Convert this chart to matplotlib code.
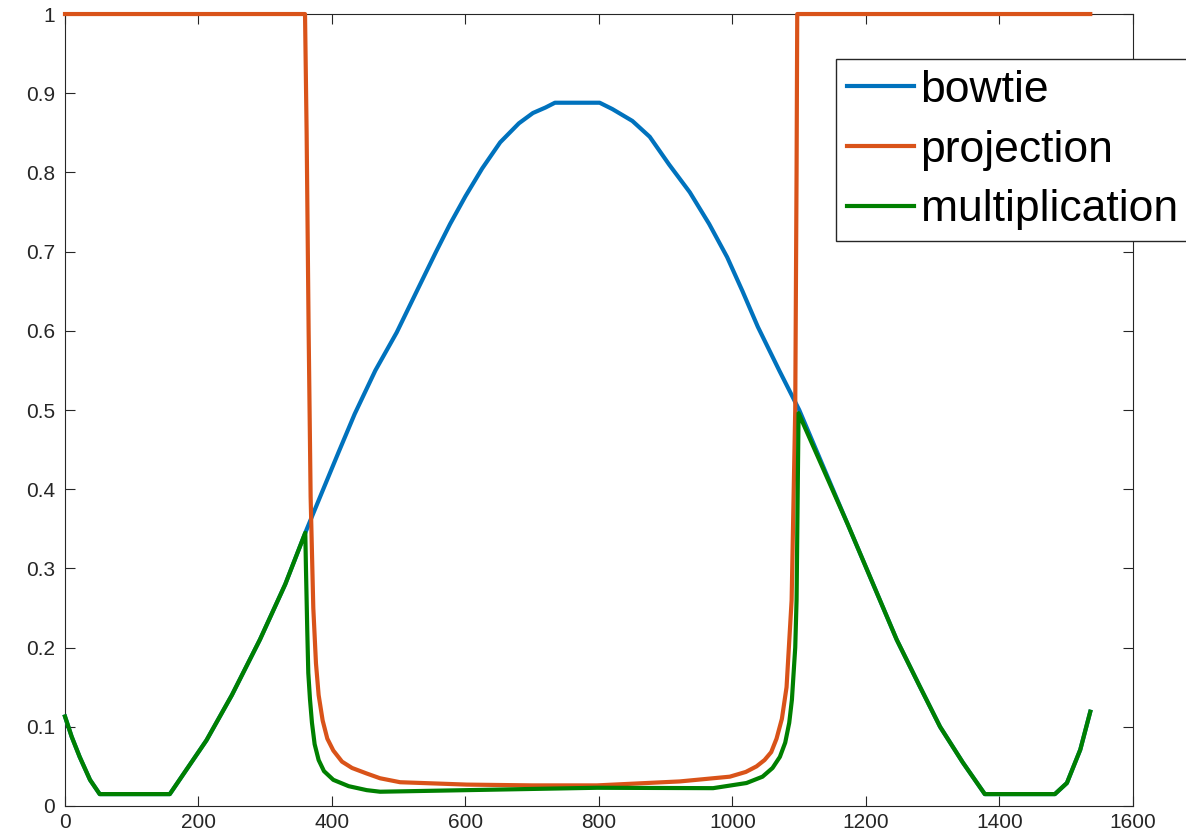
import matplotlib.pyplot as plt

# 数据
bowtie_x = [0, 10, 22, 37.5, 52, 157, 212, 250, 292, 330, 360, 382, 410, 434, 465, 497, 527,
            556, 577, 600, 625, 652, 680, 701, 720, 734, 801, 820, 850, 876, 905, 936, 965,
            992, 1015, 1038, 1070, 1100, 1173, 1246, 1280, 1311, 1345, 1378, 1483, 1501,
            1521, 1536]
bowtie_y = [0.113, 0.0875, 0.062, 0.033, 0.015, 0.015, 0.083, 0.14, 0.21, 0.28, 0.345, 0.39,
            0.447, 0.495, 0.55, 0.598, 0.65, 0.70, 0.735, 0.77, 0.805, 0.838, 0.862, 0.875,
            0.882, 0.888, 0.888, 0.880, 0.865, 0.845, 0.81, 0.775, 0.735, 0.693, 0.65, 0.605,
            0.55, 0.50, 0.355, 0.21, 0.152, 0.10, 0.055, 0.015, 0.015, 0.029, 0.071, 0.119]

projection_x = [0, 359.6, 362, 365, 368, 372, 376, 380, 386, 393, 402, 415, 430, 452, 472,
                502, 602, 700, 797, 921, 996, 1020, 1036, 1048, 1058, 1066, 1074, 1081,
                1088.6, 1094, 1096, 1097, 1536]
projection_y = [1.0, 1.0, 0.85, 0.6, 0.39, 0.25, 0.18, 0.14, 0.108, 0.085, 0.07, 0.056,
                0.048, 0.041, 0.035, 0.030, 0.027, 0.026, 0.026, 0.031, 0.037, 0.043, 0.05,
                0.058, 0.068, 0.085, 0.11, 0.15, 0.26, 0.5, 0.8, 1.0, 1.0]

mult_x = [0, 10, 22, 37.5, 52, 157, 212, 250, 292, 330, 360, 361, 363, 364.5, 367, 370, 374,
          380, 388, 402, 425, 452, 472, 602, 797, 971, 1021, 1045, 1060, 1071, 1079, 1085,
          1089, 1094, 1096, 1098, 1099, 1173, 1246, 1280, 1311, 1345, 1378, 1483, 1501,
          1521, 1536]
mult_y = [0.113, 0.0875, 0.062, 0.033, 0.015, 0.015, 0.083, 0.14, 0.21, 0.28, 0.345, 0.30,
          0.22, 0.168, 0.135, 0.105, 0.078, 0.058, 0.044, 0.033, 0.025, 0.02, 0.018, 0.020,
          0.023, 0.0225, 0.029, 0.037, 0.048, 0.062, 0.08, 0.105, 0.134, 0.2, 0.26, 0.42,
          0.496, 0.355, 0.21, 0.152, 0.10, 0.055, 0.015, 0.015, 0.029, 0.071, 0.119]

labels = ['bowtie', 'projection', 'multiplication']
colors = ['#0072BD', '#D95319', '#008000']

x_ticks = [0, 200, 400, 600, 800, 1000, 1200, 1400, 1600]
y_ticks = [0, 0.1, 0.2, 0.3, 0.4, 0.5, 0.6, 0.7, 0.8, 0.9, 1]
y_tick_labels = ['0', '0.1', '0.2', '0.3', '0.4', '0.5', '0.6', '0.7', '0.8', '0.9', '1']


def draw_chart(output_file="out.png"):
    plt.rcParams['font.family'] = ['Liberation Sans', 'DejaVu Sans']

    fig = plt.figure(figsize=(11.86, 8.4), dpi=100)
    ax = fig.add_axes([0.0548, 0.0405, 0.9005, 0.9428])

    # 三条曲线（不裁剪，使 y=1 处的线完整显示）
    series = [(bowtie_x, bowtie_y), (projection_x, projection_y), (mult_x, mult_y)]
    for (xs, ys), lab, col in zip(series, labels, colors):
        ax.plot(xs, ys, color=col, linewidth=3, label=lab, clip_on=False, zorder=3)

    ax.set_xlim(0, 1600)
    ax.set_ylim(0, 1)
    ax.set_xticks(x_ticks)
    ax.set_yticks(y_ticks)
    ax.set_yticklabels(y_tick_labels)

    # MATLAB 风格的坐标轴
    for sp in ax.spines.values():
        sp.set_color('#262626')
        sp.set_linewidth(0.8)
    ax.tick_params(direction='in', length=7, width=0.8, colors='#262626',
                   top=True, right=True, labelsize=15)
    ax.tick_params(axis='y', pad=7)
    ax.tick_params(axis='x', pad=5)

    leg = fig.legend(loc='upper left', bbox_to_anchor=(0.705, 0.93), fontsize=32,
                     fancybox=False, framealpha=1, edgecolor='#262626',
                     handlelength=1.5, handletextpad=0.15, borderpad=0.25,
                     labelspacing=0.42, borderaxespad=0)
    leg.get_frame().set_linewidth(1.0)
    leg.set_zorder(5)

    fig.savefig(output_file, dpi=100)


if __name__ == "__main__":
    draw_chart("out.png")
